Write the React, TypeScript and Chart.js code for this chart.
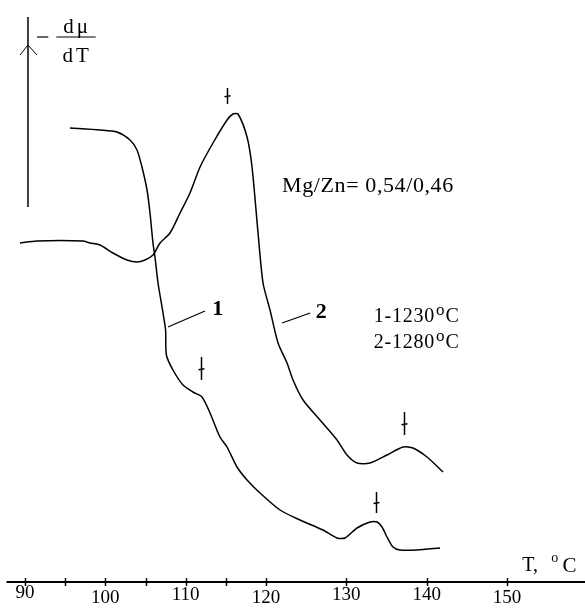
import React, { useEffect, useRef } from "react";
import { Chart, registerables } from "chart.js";

Chart.register(...registerables);

// Curve 1 (1230 °C): temperature (°C) and -dμ/dT (arbitrary units)
const curve1T = [95.6, 99.34, 101.45, 103.07, 103.94, 104.56, 105.19, 105.56, 105.93, 106.18, 106.56, 107.18, 107.5, 107.6, 108.42, 109.67, 110.91, 112.03, 113.03, 114.27, 115.15, 116.39, 117.64, 119.25, 121.74, 124.23, 127.1, 128.84, 129.84, 131.33, 132.95, 133.82, 134.44, 135.06, 135.81, 136.68, 138.8, 141.66];
const curve1V = [454, 452, 450, 442, 432, 415, 392, 369, 339, 325, 299, 269, 252, 227, 212, 197, 190, 185, 169, 145, 135, 115, 102, 89, 72, 62, 52, 44, 44, 54, 60, 60, 55, 45, 35, 32, 32, 34];

// Curve 2 (1280 °C)
const curve2T = [89.38, 91.49, 97.22, 98.09, 99.34, 100.95, 102.7, 103.94, 104.94, 105.93, 106.81, 108.05, 109.3, 110.54, 111.79, 113.4, 115.15, 115.89, 116.52, 117.64, 118.26, 119.01, 119.63, 120.5, 121.5, 122.62, 123.36, 124.61, 126.72, 128.84, 130.08, 131.33, 132.95, 135.06, 137.06, 138.3, 140.04, 142.04];
const curve2V = [339, 341, 341, 339, 337, 329, 322, 320, 322, 327, 339, 349, 369, 389, 415, 439, 462, 468, 468, 445, 415, 349, 299, 272, 239, 219, 202, 182, 162, 142, 127, 119, 119, 127, 135, 134, 125, 110];

// X axis ticks
const tickValues = [90, 95, 100, 105, 110, 115, 120, 130, 140, 150];
const labelValues = [90, 100, 110, 120, 130, 140, 150];
const labelTexts = ["90", "100", "110", "120", "130", "140", "150"];
const labelLift = [5, 0, 3, 0, 3, 3, 0];

// Peak markers (T, top value, bottom value)
const markerT = [115.15, 111.91, 137.18, 133.69];
const markerTop = [494, 225, 170, 90];
const markerBottom = [478, 202, 147, 69];

const SERIF = "'Liberation Serif', 'Times New Roman', serif";

export default function App() {
  const ref = useRef<HTMLCanvasElement | null>(null);

  useEffect(() => {
    if (!ref.current) return;
    const overlay = {
      id: "overlay",
      afterDraw(chart: any) {
        const ctx = chart.ctx as any;
        const xs = chart.scales.x;
        const ys = chart.scales.y;
        const px = (t: number) => xs.getPixelForValue(t);
        const py = (v: number) => ys.getPixelForValue(v);
        const spacing = (s: string) => {
          if ("letterSpacing" in ctx) ctx.letterSpacing = s;
        };
        ctx.save();
        ctx.strokeStyle = "#000";
        ctx.fillStyle = "#000";

        // X axis line
        ctx.lineWidth = 2;
        ctx.beginPath();
        ctx.moveTo(px(87.7), py(0));
        ctx.lineTo(chart.width, py(0));
        ctx.stroke();
        ctx.lineWidth = 1.5;
        tickValues.forEach((t) => {
          const x = Math.round(px(t)) + 0.5;
          ctx.beginPath();
          ctx.moveTo(x, py(0) - 4);
          ctx.lineTo(x, py(0) + 4);
          ctx.stroke();
        });
        ctx.font = `19px ${SERIF}`;
        ctx.textAlign = "center";
        ctx.textBaseline = "alphabetic";
        labelValues.forEach((t, i) => {
          ctx.fillText(labelTexts[i], px(t), py(0) + 21 - labelLift[i]);
        });

        // axis title T, °C
        ctx.textAlign = "left";
        ctx.font = `20px ${SERIF}`;
        ctx.fillText("T,", px(151.9), py(11));
        ctx.font = `14px ${SERIF}`;
        ctx.fillText("o", px(155.5), py(20));
        ctx.font = `21px ${SERIF}`;
        ctx.fillText("C", px(156.9), py(10));

        // Y arrow
        ctx.lineWidth = 1.5;
        ctx.beginPath();
        ctx.moveTo(px(90.37), py(565));
        ctx.lineTo(px(90.37), py(375));
        ctx.stroke();
        ctx.lineWidth = 1;
        ctx.beginPath();
        ctx.moveTo(px(89.38), py(527));
        ctx.lineTo(px(90.37), py(537));
        ctx.lineTo(px(91.49), py(527));
        ctx.stroke();

        // -dμ/dT label
        ctx.lineWidth = 1.2;
        ctx.beginPath();
        ctx.moveTo(px(91.5), py(545));
        ctx.lineTo(px(92.9), py(545));
        ctx.stroke();
        ctx.beginPath();
        ctx.moveTo(px(93.9), py(545));
        ctx.lineTo(px(98.8), py(545));
        ctx.stroke();
        ctx.textAlign = "center";
        ctx.font = `21px ${SERIF}`;
        spacing("3px");
        ctx.fillText("dμ", px(96.5), py(549));
        ctx.fillText("dT", px(96.5), py(520));
        spacing("0px");

        // peak markers
        ctx.lineWidth = 1.5;
        markerT.forEach((t, i) => {
          const x = Math.round(px(t)) + 0.5;
          const y1 = py(markerTop[i]);
          const y2 = py(markerBottom[i]);
          ctx.beginPath();
          ctx.moveTo(x, y1);
          ctx.lineTo(x, y2);
          ctx.stroke();
          const yc = y1 + (y2 - y1) * 0.55;
          ctx.beginPath();
          ctx.moveTo(x - 3, yc);
          ctx.lineTo(x + 3, yc - 1);
          ctx.stroke();
        });

        // curve labels with leaders
        ctx.lineWidth = 1.2;
        ctx.beginPath();
        ctx.moveTo(px(107.8), py(255));
        ctx.lineTo(px(112.4), py(271));
        ctx.stroke();
        ctx.beginPath();
        ctx.moveTo(px(122.0), py(259));
        ctx.lineTo(px(125.5), py(269));
        ctx.stroke();
        ctx.textAlign = "left";
        ctx.font = `bold 22px ${SERIF}`;
        ctx.fillText("1", px(113.3), py(267));
        ctx.fillText("2", px(126.2), py(264));

        // annotations
        ctx.font = `22px ${SERIF}`;
        spacing("0.6px");
        ctx.fillText("Mg/Zn= 0,54/0,46", px(122.0), py(390));
        spacing("0.8px");
        const rows = [
          { a: "1-1230", v: 260 },
          { a: "2-1280", v: 234 },
        ];
        rows.forEach((r) => {
          ctx.font = `20px ${SERIF}`;
          const x0 = px(133.4);
          ctx.fillText(r.a, x0, py(r.v));
          const w = ctx.measureText(r.a).width;
          ctx.font = `17px ${SERIF}`;
          ctx.fillText("o", x0 + w + 1, py(r.v + 7));
          const w2 = ctx.measureText("o").width;
          ctx.font = `20px ${SERIF}`;
          ctx.fillText("C", x0 + w + w2 + 1, py(r.v));
        });
        spacing("0px");

        ctx.restore();
      },
    };

    const chart = new Chart(ref.current, {
      type: "line",
      data: {
        datasets: [
          {
            label: "1",
            data: curve1T.map((t, i) => ({ x: t, y: curve1V[i] })),
            borderColor: "#000",
            borderWidth: 1.5,
            pointRadius: 0,
            tension: 0.25,
            fill: false,
            clip: false as any,
          },
          {
            label: "2",
            data: curve2T.map((t, i) => ({ x: t, y: curve2V[i] })),
            borderColor: "#000",
            borderWidth: 1.5,
            pointRadius: 0,
            tension: 0.25,
            fill: false,
            clip: false as any,
          },
        ],
      },
      options: {
        animation: false,
        responsive: false,
        maintainAspectRatio: false,
        devicePixelRatio: 1,
        layout: { padding: { left: 25, right: 78, top: 0, bottom: 32 } },
        plugins: { legend: { display: false }, tooltip: { enabled: false }, title: { display: false } },
        scales: {
          x: { type: "linear", min: 90, max: 150, display: false },
          y: { type: "linear", min: 0, max: 582, display: false },
        },
      },
      plugins: [overlay],
    });
    return () => chart.destroy();
  }, []);

  return (
    <div style={{ position: "absolute", left: 0, top: 0, width: 585, height: 614, background: "#fff" }}>
      <canvas ref={ref} width={585} height={614} style={{ width: 585, height: 614, display: "block" }} />
    </div>
  );
}
